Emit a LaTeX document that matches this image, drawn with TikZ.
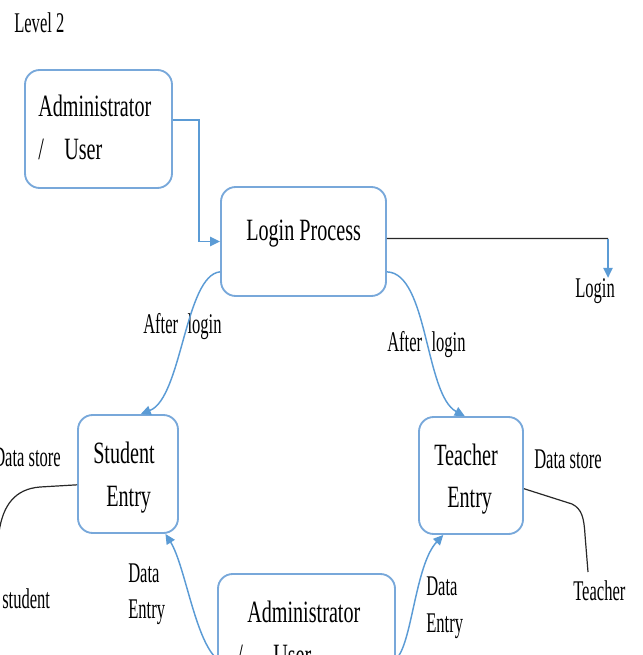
\documentclass[tikz,border=0pt]{standalone}
\usepackage{fontspec}
\setmainfont{Liberation Serif}
\newfontfamily\bigf[FakeStretch=0.65]{Liberation Serif}
\newfontfamily\smallf[FakeStretch=0.58]{Liberation Serif}
\usetikzlibrary{arrows.meta}
\definecolor{boxblue}{RGB}{120,168,218}
\definecolor{arrblue}{RGB}{91,155,213}
\definecolor{darkline}{RGB}{40,40,40}
\tikzset{
  procbox/.style={draw=boxblue, line width=1.4pt, rounded corners=11pt, inner sep=0pt},
  bigtext/.style={font={\bigf\fontsize{23.25pt}{32pt}\selectfont}, inner sep=0pt, anchor=base west},
  smalltext/.style={font={\smallf\fontsize{21.4pt}{28pt}\selectfont}, inner sep=0pt, anchor=base west},
  flow/.style={draw=arrblue, line width=1.1pt, -{Triangle[length=7.5pt,width=7pt]}},
  plainline/.style={draw=darkline, line width=0.9pt},
}
\begin{document}
\begin{tikzpicture}[x=0.75pt,y=-0.75pt]
\useasboundingbox (0,0) rectangle (642,655);
\clip (0,0) rectangle (642,655);

% boxes
\node[procbox, minimum width=147*0.75pt, minimum height=118*0.75pt] (admin1) at (98.5,129) {};
\node[procbox, minimum width=165*0.75pt, minimum height=109*0.75pt] (login) at (303.5,241.5) {};
\node[procbox, minimum width=100*0.75pt, minimum height=118*0.75pt] (student) at (128,474) {};
\node[procbox, minimum width=104*0.75pt, minimum height=117*0.75pt] (teacher) at (471,475.5) {};
\node[procbox, minimum width=177*0.75pt, minimum height=122*0.75pt] (admin2) at (306.5,635) {};

% box texts
\node[smalltext] (lvl) at (14,33) {Level 2};
\node[bigtext] (a1l1) at (38,117) {Administrator};
\node[bigtext] (a1s) at (38,160) {/};
\node[bigtext] (a1l2) at (64,160) {User};
\node[bigtext] (lp) at (246,241) {Login Process};
\node[bigtext] (st1) at (93,463) {Student};
\node[bigtext] (st2) at (106,506) {Entry};
\node[bigtext] (te1) at (434,465) {Teacher};
\node[bigtext] (te2) at (447,507) {Entry};
\node[bigtext] (a2l1) at (247,622) {Administrator};
\node[bigtext] (a2s) at (237,665) {/};
\node[bigtext] (a2l2) at (273,665) {User};

% labels
\node[smalltext] (al1) at (143,333) {After\hspace{7pt}login};
\node[smalltext] (al2) at (387,351) {After\hspace{7pt}login};
\node[smalltext] (logt) at (575,297) {Login};
\node[smalltext] (dsl) at (-7,466) {Data store};
\node[smalltext] (dsr) at (534,468) {Data store};
\node[smalltext] (stu) at (2,608) {student};
\node[smalltext] (tch) at (573,600) {Teacher};
\node[smalltext] (de1a) at (128,582) {Data};
\node[smalltext] (de1b) at (128,618) {Entry};
\node[smalltext] (de2a) at (426,595) {Data};
\node[smalltext] (de2b) at (426,632) {Entry};

% connectors
\draw[flow] (admin1.7) -- ++(26,0) |- (login.west);
\coordinate (lcorner) at (608,238.6);
\draw[plainline] (login.2) -- (lcorner);
\draw[flow] (lcorner) -- (lcorner |- logt.north);
\draw[flow] (login.200) .. controls (185,275) and (182,398) .. (student.78);
\draw[flow] (login.-20) .. controls (428,273) and (425,395) .. (teacher.96);
\draw[flow] (admin2.195) .. controls (195,640) and (185,565) .. (student.-58);
\draw[flow] (admin2.-15) .. controls (412,645) and (415,565) .. (teacher.245);

\coordinate (sfree) at (-1,532);
\draw[plainline] (student.192) -- (40,487) .. controls (15,489) and (3,505) .. (sfree);
\coordinate (tfree) at (588,572);
\draw[plainline] (teacher.-14) -- (572,504) .. controls (582,509) and (584,518) .. (585,535) -- (tfree);
\end{tikzpicture}
\end{document}
